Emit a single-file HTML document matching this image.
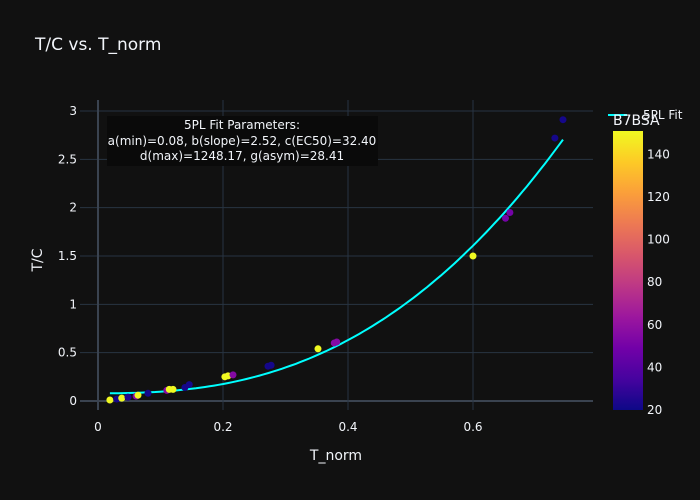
<!DOCTYPE html>
<html><head><meta charset="utf-8"><style>
body{margin:0;background:#111111;}
svg{display:block;font-family:"DejaVu Sans","Liberation Sans",sans-serif;}
</style></head><body>
<svg id="chart" width="700" height="500" viewBox="0 0 700 500">
<defs>
<linearGradient id="plasma" x1="0" y1="1" x2="0" y2="0">
<stop offset="0" stop-color="#0d0887"/><stop offset="0.111" stop-color="#46039f"/><stop offset="0.222" stop-color="#7201a8"/><stop offset="0.333" stop-color="#9c179e"/><stop offset="0.444" stop-color="#bd3786"/><stop offset="0.556" stop-color="#d8576b"/><stop offset="0.667" stop-color="#ed7953"/><stop offset="0.778" stop-color="#fb9f3a"/><stop offset="0.889" stop-color="#fdca26"/><stop offset="1" stop-color="#f0f921"/>
</linearGradient>
</defs>
<text x="35" y="50" fill="#f2f5fa" font-size="17">T/C vs. T_norm</text>
<g id="grid"></g>
<g id="fit"></g>
<g id="points"></g>
<rect x="107" y="116" width="271" height="50" fill="#0a0a0a"/>
<text x="242" y="129" fill="#f2f5fa" font-size="12" text-anchor="middle">5PL Fit Parameters:</text>
<text x="242" y="145" fill="#f2f5fa" font-size="12" text-anchor="middle">a(min)=0.08, b(slope)=2.52, c(EC50)=32.40</text>
<text x="242" y="160" fill="#f2f5fa" font-size="12" text-anchor="middle">d(max)=1248.17, g(asym)=28.41</text>
<text x="336" y="460" fill="#f2f5fa" font-size="14" text-anchor="middle">T_norm</text>
<text x="42" y="260" fill="#f2f5fa" font-size="14" text-anchor="middle" transform="rotate(-90 42 260)">T/C</text>
<line x1="608" y1="115" x2="627" y2="115" stroke="#00ffff" stroke-width="2"/>
<text x="643" y="119" fill="#f2f5fa" font-size="12">5PL Fit</text>
<text x="613" y="125" fill="#f2f5fa" font-size="14">B7BSA</text>
<rect x="613" y="131" width="30" height="279" fill="url(#plasma)"/>
<g id="cticks"></g>
</svg>
<script>
const xTicks=[0,0.2,0.4,0.6];
const xTickLabels=["0","0.2","0.4","0.6"];
const yTicks=[0,0.5,1,1.5,2,2.5,3];
const yTickLabels=["0","0.5","1","1.5","2","2.5","3"];
const cTicks=[20,40,60,80,100,120,140];
const tNorm=[0.019,0.030,0.038,0.048,0.061,0.064,0.080,0.110,0.114,0.120,0.139,0.146,0.203,0.208,0.216,0.272,0.277,0.352,0.378,0.382,0.600,0.652,0.659,0.731,0.744];
const tcVals=[0.01,0.02,0.03,0.04,0.05,0.06,0.08,0.11,0.12,0.12,0.14,0.17,0.25,0.26,0.27,0.36,0.37,0.54,0.60,0.61,1.50,1.89,1.95,2.72,2.91];
const bsaVals=[150,22,150,25,55,150,22,55,150,150,22,22,150,150,55,22,22,150,55,55,150,50,50,22,22];
const fitA=0.08,fitB=2.52,fitC=32.40,fitD=1248.17,fitG=28.41;
const NS="http://www.w3.org/2000/svg";
const xs=v=>98+v*625, ys=v=>401-v*96.667, cs=v=>410-(v-20)*(277/130);
function mk(tag,attrs,parent){const e=document.createElementNS(NS,tag);for(const k in attrs)e.setAttribute(k,attrs[k]);parent.appendChild(e);return e;}
const grid=document.getElementById('grid');
yTicks.forEach((t,i)=>{
 const l=mk('line',{x1:80,x2:593,y1:ys(t),y2:ys(t),stroke:t===0?'#3a4350':'#283442','stroke-width':t===0?2:1},grid);
 
 
 const tx=mk('text',{x:77,y:ys(t)+4,fill:'#f2f5fa','font-size':12,'text-anchor':'end'},grid);tx.textContent=yTickLabels[i];
 
 
});
xTicks.forEach((t,i)=>{
 const l=mk('line',{x1:xs(t),x2:xs(t),y1:100,y2:410,stroke:t===0?'#3a4350':'#283442','stroke-width':t===0?2:1},grid);
 
 
 const tx=mk('text',{x:xs(t),y:431,fill:'#f2f5fa','font-size':12,'text-anchor':'middle'},grid);tx.textContent=xTickLabels[i];
 
 
});
function fit(x){return fitD+(fitA-fitD)/Math.pow(1+Math.pow(x/fitC,fitB),fitG);}
let xmin=Math.min(...tNorm),xmax=Math.max(...tNorm),d='';
for(let i=0;i<=100;i++){const x=xmin+(xmax-xmin)*i/100;d+=(i?'L':'M')+xs(x).toFixed(1)+','+ys(fit(x)).toFixed(1);}
const p=mk('path',{d:d,fill:'none',stroke:'#00ffff','stroke-width':2},document.getElementById('fit'));


const stops=['#0d0887','#46039f','#7201a8','#9c179e','#bd3786','#d8576b','#ed7953','#fb9f3a','#fdca26','#f0f921'];
function hex(h){return [1,3,5].map(i=>parseInt(h.substr(i,2),16));}
function col(v){let t=Math.max(0,Math.min(1,(v-20)/130))*9;const i=Math.min(8,Math.floor(t)),f=t-i;const a=hex(stops[i]),b=hex(stops[i+1]);return 'rgb('+a.map((c,k)=>Math.round(c+(b[k]-c)*f)).join(',')+')';}
const pts=document.getElementById('points');
tNorm.forEach((x,i)=>{
 const c=mk('circle',{cx:xs(x),cy:ys(tcVals[i]),r:3.5,fill:col(bsaVals[i])},pts);
 
 
});
const ct=document.getElementById('cticks');
cTicks.forEach(t=>{
 const tx=mk('text',{x:647,y:cs(t)+4,fill:'#f2f5fa','font-size':12},ct);tx.textContent=t;
 
 
});
</script>
</body></html>
